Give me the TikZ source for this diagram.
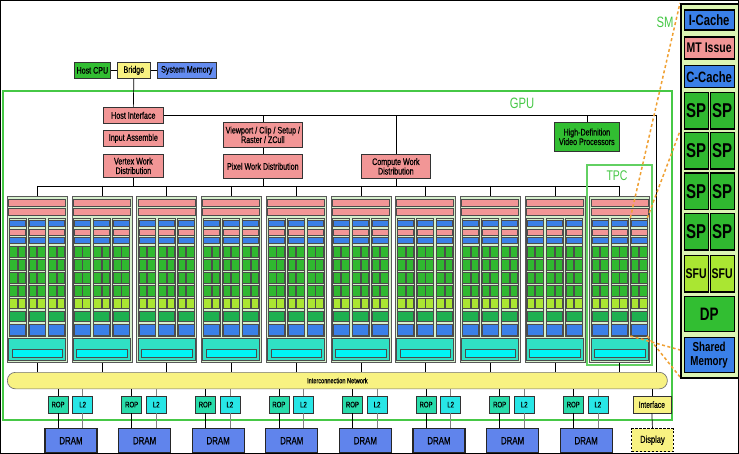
\documentclass[tikz,border=0pt]{standalone}
\usepackage{fontspec}
\newfontfamily\nf[FakeStretch=0.75]{Liberation Sans}
\newfontfamily\nfm[FakeStretch=0.75,FakeBold=0.6]{Liberation Sans}
\definecolor{pinkc}{RGB}{242,150,150}
\definecolor{bluec}{RGB}{58,128,232}
\definecolor{sysblue}{RGB}{100,140,240}
\definecolor{dramblue}{RGB}{96,132,236}
\definecolor{spgreen}{RGB}{48,184,48}
\definecolor{sfugreen}{RGB}{170,230,50}
\definecolor{dpgreen}{RGB}{30,176,80}
\definecolor{tpcfill}{RGB}{214,240,204}
\definecolor{tealc}{RGB}{48,224,196}
\definecolor{cyanc}{RGB}{0,245,245}
\definecolor{yelc}{RGB}{248,242,130}
\definecolor{ropc}{RGB}{40,220,170}
\definecolor{ltwoc}{RGB}{40,230,230}
\definecolor{gpugreen}{RGB}{70,200,70}
\definecolor{smfill}{RGB}{220,245,180}
\definecolor{orng}{RGB}{240,160,50}
\definecolor{hdgreen}{RGB}{50,190,50}
\tikzset{
  lab/.style={draw=black!80, line width=0.7, inner sep=0, align=center, anchor=north west,
    font=\nfm\fontsize{9.5}{9.5}\selectfont},
  cell/.style={draw=black!70, line width=0.5},
  smb/.style={draw=black, line width=1.3, inner sep=0, anchor=north west, align=center,
    font=\nf\bfseries\fontsize{15}{14}\selectfont},
  conn/.style={draw=black, line width=0.7},
  gconn/.style={draw=black!50, line width=0.7},
  odash/.style={draw=orng, line width=1.5, dash pattern=on 3pt off 2.5pt},
}
\begin{document}
\begin{tikzpicture}[x=1pt,y=-1pt]
\useasboundingbox (0,0) rectangle (739,454);
\fill[white] (0,0) rectangle (739,454);
\draw[black, line width=1] (0.5,0.5) rectangle (738.5,453.5);

% host side
\node[lab, fill=hdgreen, minimum width=36, minimum height=16] (hostcpu) at (74,62) {Host CPU};
\node[lab, fill=yelc, minimum width=33, minimum height=16] (bridge) at (117,62) {Bridge};
\node[lab, fill=sysblue, minimum width=59, minimum height=16] (sysmem) at (157,62) {System Memory};
\draw[conn, line width=1] (hostcpu.east) -- (bridge.west);
\draw[conn, line width=1] (bridge.east) -- (sysmem.west);

% GPU frame
\draw[gpugreen, line width=2] (3,91) rectangle (672,420);
\node[text=gpugreen, font=\nf\fontsize{15}{15}\selectfont, inner sep=0] (gpulbl) at (522,103) {GPU};

% front end
\node[lab, fill=pinkc, minimum width=60, minimum height=16] (hostif) at (103,107) {Host Interface};
\node[lab, fill=pinkc, minimum width=60, minimum height=16] (inasm) at (103,130) {Input Assemble};
\node[lab, fill=pinkc, minimum width=60, minimum height=23] (vwd) at (103,154) {Vertex Work\\Distribution};
\node[lab, fill=pinkc, minimum width=79, minimum height=25] (vp) at (223,122) {Viewport / Clip / Setup /\\Raster / ZCull};
\node[lab, fill=pinkc, minimum width=79, minimum height=24] (pwd) at (223,154) {Pixel Work Distribution};
\node[lab, fill=pinkc, minimum width=69, minimum height=24] (cwd) at (361,154) {Compute Work\\Distribution};
\node[lab, fill=hdgreen, minimum width=65, minimum height=29] (hdv) at (554,122) {High-Definition\\Video Processors};

\draw[conn] (bridge.south) -- (hostif.north);
\coordinate (hr) at (656,115);
\coordinate (busL) at (37,186);
\coordinate (busR) at (619.3,186);
\draw[conn] (hostif.east) -- (hostif.east -| hr) -- (hr);
\draw[conn] (vp.north) -- (vp.north |- hr);
\draw[conn] (vp.south) -- (pwd.north);
\draw[conn] (cwd.north) -- (cwd.north |- hr);
\draw[conn] (hdv.north) -- (hdv.north |- hr);
\draw[conn] (busL) -- (busR);
\draw[conn] (vwd.south) -- (vwd.south |- busL);
\draw[conn] (pwd.south) -- (pwd.south |- busL);
\draw[conn] (cwd.south) -- (cwd.south |- busL);

% last TPC outline
\draw[gpugreen!85, line width=1.2] (587,165) rectangle (652,365);
\node[text=gpugreen, font=\nf\fontsize{14}{14}\selectfont, inner sep=0] (tpclbl) at (617,176) {TPC};

% interconnect
\node[draw=black!55, line width=0.7, fill=yelc, rounded corners=8, minimum width=660, minimum height=16.5,
  anchor=north west, inner sep=0, font=\nfm\fontsize{7.5}{7.5}\selectfont] (icn) at (7,372) {Interconnection Network};
\draw[conn] (hr) -- (hr |- icn.north);

% TPCs
\foreach \i in {0,...,9}{
  \pgfmathsetmacro{\xo}{7+64.7*\i}
  \node[draw=black!65, line width=0.8, fill=tpcfill, anchor=north west, minimum width=60, minimum height=166, inner sep=0] (tpc\i) at (\xo,196) {};
  \draw[conn] (tpc\i.north |- busL) -- (tpc\i.north);
  \draw[conn] (tpc\i.south) -- (tpc\i.south |- icn.north);
  \draw[cell, fill=pinkc] (\xo+1.5,199.5) rectangle (\xo+58.5,206);
  \draw[cell, fill=pinkc] (\xo+1.5,208.5) rectangle (\xo+58.5,215.5);
  \foreach \cc in {2,21.5,41}{
    \pgfmathsetmacro{\ca}{\xo+\cc}
    \pgfmathsetmacro{\cb}{\ca+17}
    \pgfmathsetmacro{\cm}{\ca+8.5}
    \draw[cell, fill=tpcfill] (\ca,218) rectangle (\cb,336);
    \draw[cell, fill=bluec] (\ca+0.5,220.5) rectangle (\cb-0.5,226.5);
    \draw[cell, fill=pinkc] (\ca+0.5,229) rectangle (\cb-0.5,235);
    \draw[cell, fill=bluec] (\ca+0.5,237.5) rectangle (\cb-0.5,243.5);
    \foreach \ry/\rh in {246/11,259/11,272/11.5,285/11.5}{
      \draw[cell, fill=spgreen] (\ca+0.5,\ry) rectangle (\cm-0.4,\ry+\rh);
      \draw[cell, fill=spgreen] (\cm+0.4,\ry) rectangle (\cb-0.5,\ry+\rh);
    }
    \draw[cell, fill=sfugreen] (\ca+0.5,298.5) rectangle (\cm-0.4,308.5);
    \draw[cell, fill=sfugreen] (\cm+0.4,298.5) rectangle (\cb-0.5,308.5);
    \draw[cell, fill=dpgreen] (\ca+0.5,311) rectangle (\cb-0.5,321.5);
    \draw[cell, fill=bluec] (\ca+0.5,324) rectangle (\cb-0.5,335);
  }
  \draw[cell, fill=tealc] (\xo+1.5,338.5) rectangle (\xo+58.5,360.5);
  \draw[cell, fill=cyanc] (\xo+5,349) rectangle (\xo+55.5,357.5);
}

% memory partitions
\foreach \j in {0,...,7}{
  \pgfmathsetmacro{\dx}{44.3+73.6*\j}
  \node[lab, fill=ropc, minimum width=20, minimum height=16.5, font=\nfm\fontsize{8}{8}\selectfont] (rop\j) at (\dx+3.4,396) {ROP};
  \node[lab, fill=ltwoc, minimum width=20, minimum height=16.5, font=\nfm\fontsize{8}{8}\selectfont] (ltwo\j) at (\dx+28,396) {L2};
  \node[draw=black!85, line width=1.3, fill=dramblue, anchor=north west, inner sep=0, minimum width=52, minimum height=24,
    font=\nfm\fontsize{10.5}{10.5}\selectfont] (dram\j) at (\dx,428) {DRAM};
  \draw[conn] (rop\j.north |- icn.south) -- (rop\j.north);
  \draw[conn] (rop\j.south) -- (rop\j.south |- dram\j.north);
  \draw[gconn] (ltwo\j.north |- icn.south) -- (ltwo\j.north);
  \draw[gconn] (ltwo\j.south) -- (ltwo\j.south |- dram\j.north);
}
\node[lab, fill=yelc, minimum width=38, minimum height=16.5, font=\nfm\fontsize{9}{9}\selectfont] (iface) at (632.5,396) {Interface};
\node[draw=black, line width=1.4, dash pattern=on 2.5pt off 1.5pt, fill=yelc, anchor=north west, inner sep=0,
  minimum width=41.5, minimum height=23, font=\nfm\fontsize{10}{10}\selectfont] (disp) at (631,428) {Display};
\draw[conn] (iface.north |- icn.south) -- (iface.north);
\draw[conn] (iface.south) -- (disp.north);

% zoom lines
\coordinate (smTL) at (630.3,218);
\coordinate (smTR) at (647.3,218);
\coordinate (smBL) at (630.3,336);
\coordinate (smBR) at (647.3,336);
\draw[odash] (smTL) -- (680,3);
\draw[odash] (smTR) -- (680,131);
\draw[odash] (smBL) -- (680,350);
\draw[odash] (smBR) -- (680,377);
\node[text=gpugreen, font=\nf\fontsize{15}{15}\selectfont, inner sep=0] (smlbl) at (665,22.5) {SM};

% SM detail
\node[draw=black, line width=2, fill=smfill, anchor=north west, minimum width=58, minimum height=374, inner sep=0] (smbox) at (680,3) {};
\node[smb, fill=bluec, minimum width=50, minimum height=20] (icache) at (683.5,9.5) {I-Cache};
\node[smb, fill=pinkc, minimum width=50, minimum height=22, font=\nf\bfseries\fontsize{14}{14}\selectfont] (mtis) at (683.5,36.5) {MT Issue};
\node[smb, fill=bluec, minimum width=50, minimum height=22] (ccache) at (683.5,65) {C-Cache};
\foreach \k/\yy in {0/92,1/132,2/172.5,3/213}{
  \node[smb, fill=spgreen, minimum width=24, minimum height=36.5, font=\nf\bfseries\fontsize{20}{20}\selectfont] (spa\k) at (683.5,\yy) {SP};
  \node[smb, fill=spgreen, minimum width=24, minimum height=36.5, font=\nf\bfseries\fontsize{20}{20}\selectfont] (spb\k) at (709.5,\yy) {SP};
}
\node[smb, fill=sfugreen, minimum width=24, minimum height=36.5, font=\nf\bfseries\fontsize{14}{14}\selectfont] (sfua) at (683.5,255) {SFU};
\node[smb, fill=sfugreen, minimum width=24, minimum height=36.5, font=\nf\bfseries\fontsize{14}{14}\selectfont] (sfub) at (709.5,255) {SFU};
\node[smb, fill=hdgreen, minimum width=50, minimum height=35, font=\nf\bfseries\fontsize{18}{18}\selectfont] (dp) at (683.5,296) {DP};
\node[smb, fill=bluec, minimum width=50, minimum height=35, font=\nf\bfseries\fontsize{13}{13.5}\selectfont] (shm) at (683.5,337) {Shared\\Memory};
\end{tikzpicture}
\end{document}
